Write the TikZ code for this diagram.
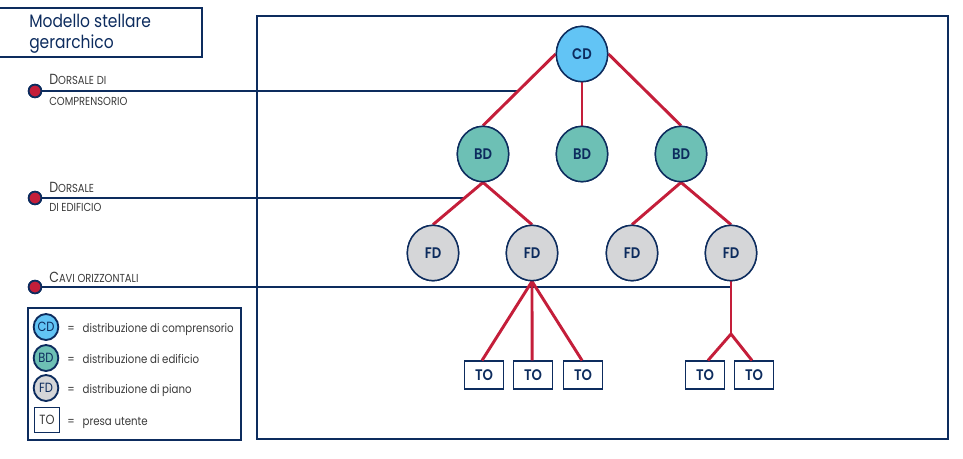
\documentclass[tikz,border=0pt]{standalone}
\usepackage{fontspec}
\setmainfont{Poppins}[FakeStretch=0.86]
\newfontfamily\boldf{Poppins}[FakeStretch=0.86,UprightFont=* SemiBold]
\usetikzlibrary{shapes.geometric,calc}
\definecolor{navy}{HTML}{0D2C5E}
\definecolor{wire}{HTML}{C41E3A}
\definecolor{cdfill}{HTML}{62C4F5}
\definecolor{bdfill}{HTML}{6DC0B5}
\definecolor{fdfill}{HTML}{D5D6D8}
\definecolor{labgray}{HTML}{3A3A3A}
\newcommand\fsc[2]{{\fontsize{11}{10}\selectfont #1}{\fontsize{8.7}{8}\selectfont #2}}
\tikzset{
  hub/.style={ellipse,draw=navy,line width=1.1pt,minimum width=38.5pt,minimum height=41.5pt,inner sep=0pt,
    text=navy,font=\boldf\fontsize{11.5}{12}\selectfont},
  cdnode/.style={hub,fill=cdfill},
  bdnode/.style={hub,fill=bdfill},
  fdnode/.style={hub,fill=fdfill},
  tobox/.style={rectangle,draw=navy,line width=0.8pt,minimum width=29.3pt,minimum height=21pt,inner sep=0pt,
    text=navy,font=\boldf\fontsize{11.5}{12}\selectfont},
  link/.style={draw=wire,line width=2.2pt},
  tier/.style={draw=navy,line width=0.8pt},
  dotmark/.style={circle,draw=navy,fill=wire,line width=1.3pt,minimum size=9.5pt,inner sep=0pt},
  tierlab/.style={anchor=base west,inner sep=0pt,text=labgray},
  leghub/.style={ellipse,draw=navy,line width=1.4pt,minimum width=18.5pt,minimum height=19.5pt,inner sep=0pt,text=navy,
    font=\fontsize{10}{12}\selectfont},
  legtext/.style={anchor=base west,inner sep=0pt,text=labgray,font=\fontsize{8.9}{12}\selectfont},
  titletext/.style={anchor=base west,inner sep=0pt,text=navy,font=\fontsize{13.5}{16}\selectfont},
  frame/.style={draw=navy,line width=0.8pt}
}
\begin{document}
\begin{tikzpicture}[x=0.75pt,y=-0.75pt]
\useasboundingbox (0,0) rectangle (963,458);
% frames
\draw[frame] (-2,8) rectangle (202,57);
\node[titletext] (t1) at (29,27) {Modello stellare};
\node[titletext] (t2) at (29,48) {gerarchico};
\draw[frame] (257,16) rectangle (948,439);
% nodes
\node[cdnode] (cd) at (582,54) {CD};
\node[bdnode] (bd1) at (483,154) {BD};
\node[bdnode] (bd2) at (582,154) {BD};
\node[bdnode] (bd3) at (681,154) {BD};
\node[fdnode] (fd1) at (433,253) {FD};
\node[fdnode] (fd2) at (532,253) {FD};
\node[fdnode] (fd3) at (632,253) {FD};
\node[fdnode] (fd4) at (731,253) {FD};
\node[tobox] (to1) at (484,375) {TO};
\node[tobox] (to2) at (533,375) {TO};
\node[tobox] (to3) at (583,375) {TO};
\node[tobox] (to4) at (705,375) {TO};
\node[tobox] (to5) at (754,375) {TO};
\coordinate (j) at (731,334);
% tier markers
\node[dotmark] (d1) at (35,91) {};
\node[dotmark] (d2) at (35,198) {};
\node[dotmark] (d3) at (35,287) {};
\coordinate (j1) at ($(cd.west)!0.507!(bd1.north)$);
\coordinate (j2) at ($(bd1.south)!0.356!(fd1.north)$);
\draw[tier] (d1.east) -- (d1.east -| j1);
\draw[tier] (d2.east) -- (d2.east -| j2);
\draw[tier] (d3.east) -- (d3.east -| fd4);
% links
\draw[link] (cd.west) -- (bd1.north);
\draw[link] (cd.south) -- (bd2.north);
\draw[link] (cd.east) -- (bd3.north);
\draw[link] (bd1.south) -- (fd1.north);
\draw[link] (bd1.south) -- (fd2.north);
\draw[link] (bd3.south) -- (fd3.north);
\draw[link] (bd3.south) -- (fd4.north);
\draw[link] (fd2.south) -- ([xshift=-1.5pt]to1.north);
\draw[link] (fd2.south) -- ([xshift=-0.7pt]to2.north);
\draw[link] (fd2.south) -- ([xshift=-0.7pt]to3.north);
\draw[link] (fd4.south) -- (j);
\draw[link] (j) -- ([xshift=2.2pt]to4.north);
\draw[link] (j) -- ([xshift=-1.5pt]to5.north);
% redraw nodes on top
\node[cdnode] at (cd) {CD};
\node[bdnode] at (bd1) {BD};
\node[bdnode] at (bd2) {BD};
\node[bdnode] at (bd3) {BD};
\node[fdnode] at (fd1) {FD};
\node[fdnode] at (fd2) {FD};
\node[fdnode] at (fd3) {FD};
\node[fdnode] at (fd4) {FD};
\node[dotmark] at (d1) {};
\node[dotmark] at (d2) {};
\node[dotmark] at (d3) {};
% tier labels
\node[tierlab] (l1a) at (49,84) {\fsc{D}{ORSALE DI}};
\node[tierlab] (l1b) at (49,105) {\fsc{}{COMPRENSORIO}};
\node[tierlab] (l2a) at (49,192) {\fsc{D}{ORSALE}};
\node[tierlab] (l2b) at (49,211) {\fsc{}{DI EDIFICIO}};
\node[tierlab] (l3a) at (49,282) {\fsc{C}{AVI ORIZZONTALI}};
% legend
\draw[frame] (28,308) rectangle (241,440);
\node[leghub,fill=cdfill] (lcd) at (46,327) {CD};
\node[leghub,fill=bdfill] (lbd) at (46,358) {BD};
\node[leghub,fill=fdfill] (lfd) at (46,388) {FD};
\node[rectangle,draw=navy,line width=0.8pt,minimum width=18.5pt,minimum height=19pt,inner sep=0pt,text=labgray,font=\fontsize{10}{12}\selectfont] (lto) at (47,420) {TO};
\node[legtext] (e1) at (67,332) {=\hspace{6pt}distribuzione di comprensorio};
\node[legtext] (e2) at (67,363) {=\hspace{6pt}distribuzione di edificio};
\node[legtext] (e3) at (67,393) {=\hspace{6pt}distribuzione di piano};
\node[legtext] (e4) at (67,425) {=\hspace{6pt}presa utente};
\end{tikzpicture}
\end{document}
